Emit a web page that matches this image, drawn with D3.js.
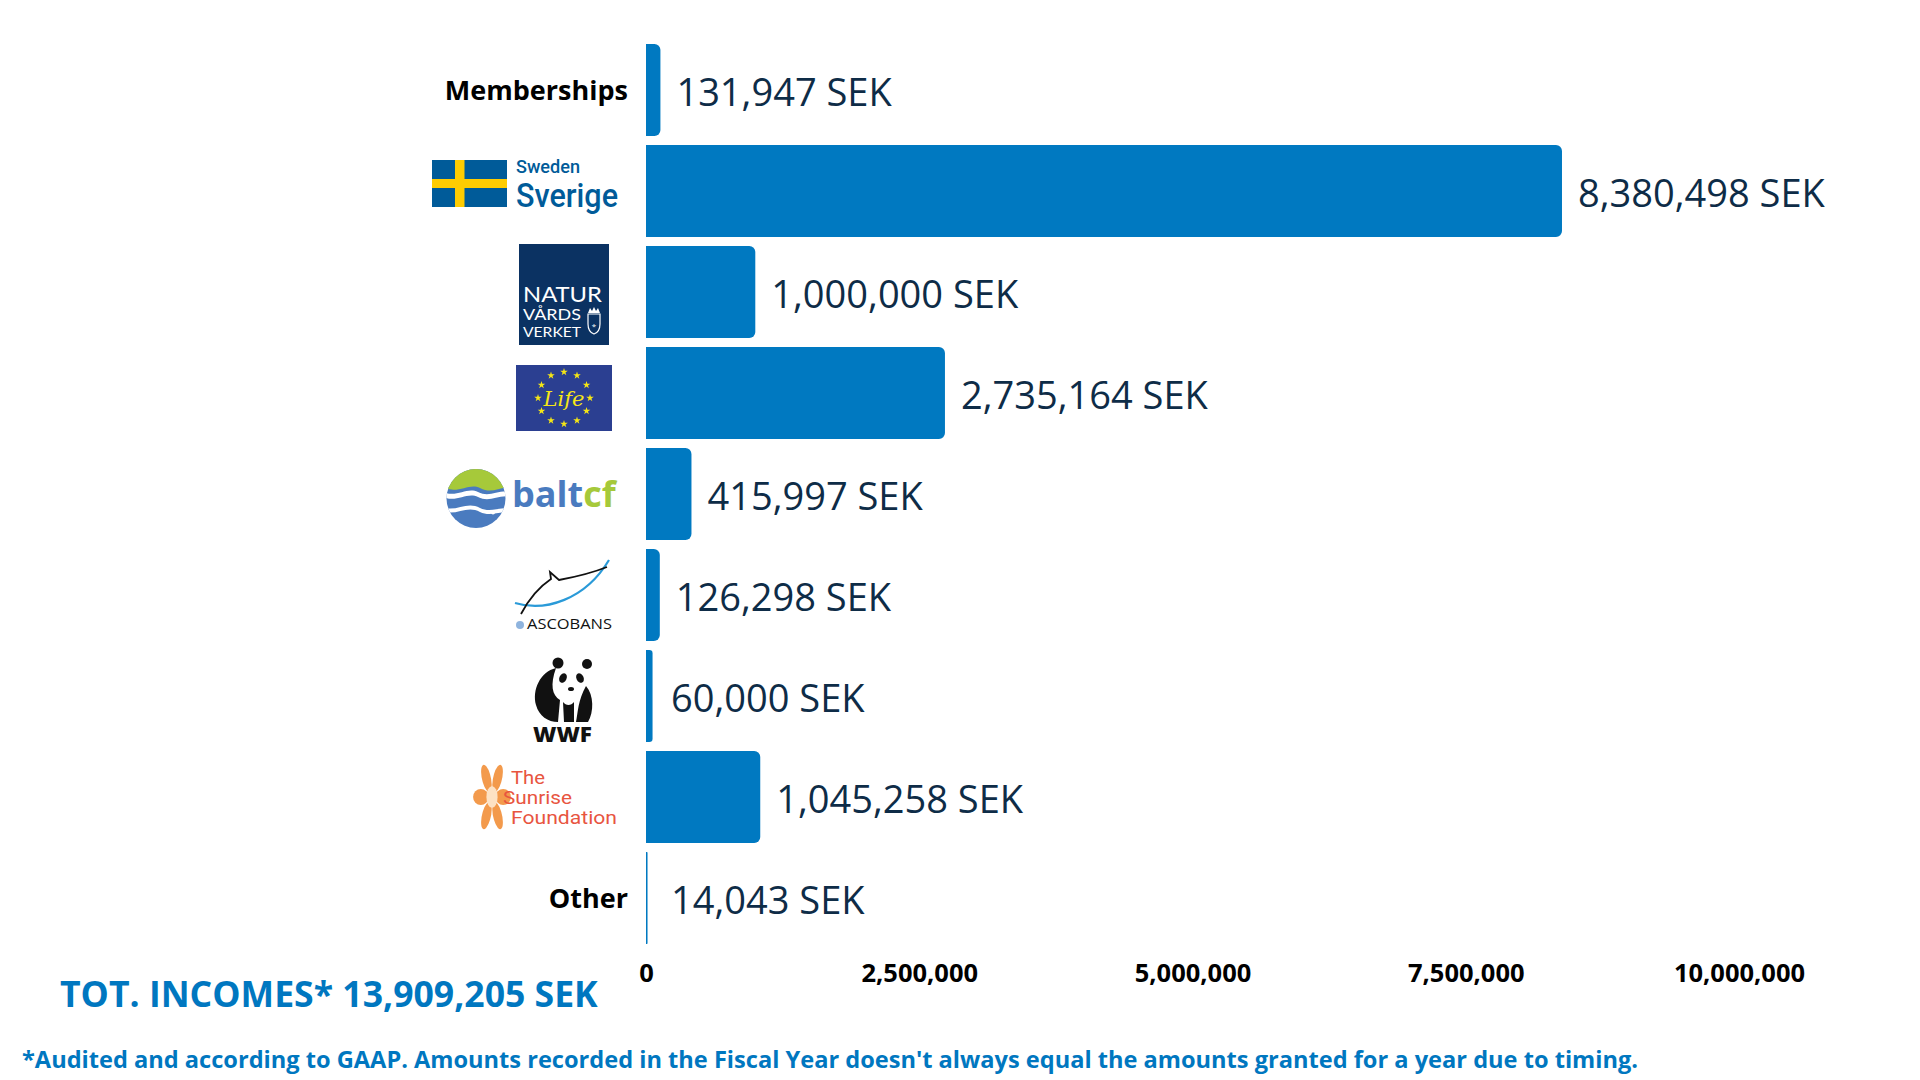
<!DOCTYPE html>
<html lang="en">
<head>
  <meta charset="UTF-8">
  <title>Incomes by source</title>
  <script src="https://d3js.org/d3.v7.min.js"></script>
  <style>
    body {
      margin: 0;
      background: #fff;
      font-family: 'Open Sans', 'Noto Sans', Arial, sans-serif;
    }
    svg { display: block; }
    .axis text {
      font-family: 'Open Sans', sans-serif;
      font-weight: 700;
      font-size: 25.5px;
      fill: #000;
    }
    .value {
      font-size: 38px;
      fill: #0e2c47;
    }
    .cat {
      font-size: 27px;
      font-weight: 700;
      fill: #000;
    }
  </style>
</head>
<body>
<svg id="chart" width="1920" height="1080"></svg>

<script>
const sources = ["Memberships", "Sweden Sverige", "Naturvårdsverket", "EU LIFE", "BaltCF",
                 "ASCOBANS", "WWF", "The Sunrise Foundation", "Other"];
const amounts = [131947, 8380498, 1000000, 2735164, 415997, 126298, 60000, 1045258, 14043];
const logos = [null, "sweden", "naturvard", "life", "baltcf", "ascobans", "wwf", "sunrise", null];
const axisTicks = [0, 2500000, 5000000, 7500000, 10000000];
const totalText = "TOT. INCOMES* 13,909,205 SEK";
const footnote = "*Audited and according to GAAP. Amounts recorded in the Fiscal Year doesn't always equal the amounts granted for a year due to timing.";

const data = sources.map((s, i) => ({source: s, value: amounts[i], logo: logos[i]}));

const svg = d3.select("#chart");
const blue = "#0079c1";

const x = d3.scaleLinear().domain([0, 10000000]).range([646, 1739]);
const y = d3.scaleBand().domain(sources).range([44, 944]).paddingInner(9 / 101).paddingOuter(0);

// bars, only right corners rounded
function barPath(x0, y0, w, h, r) {
  r = Math.max(0, Math.min(r, w / 2, h / 2));
  return `M${x0},${y0}H${x0 + w - r}A${r},${r} 0 0 1 ${x0 + w},${y0 + r}` +
         `V${y0 + h - r}A${r},${r} 0 0 1 ${x0 + w - r},${y0 + h}H${x0}Z`;
}

svg.append("g").selectAll("path")
  .data(data)
  .join("path")
    .attr("fill", blue)
    .attr("d", d => barPath(x(0), y(d.source), Math.max(1.5, x(d.value) - x(0)), y.bandwidth(), 6));

svg.append("g").selectAll("text")
  .data(data)
  .join("text")
    .attr("class", "value")
    .attr("x", d => Math.max(x(d.value) + 16, 671))
    .attr("y", d => y(d.source) + y.bandwidth() / 2 + 3)
    .attr("dy", "0.35em")
    .text(d => d3.format(",")(d.value) + " SEK");

// x axis
const xAxis = svg.append("g")
  .attr("class", "axis")
  .attr("transform", "translate(0,964)")
  .call(d3.axisBottom(x).tickValues(axisTicks).tickFormat(d3.format(",")).tickSize(0).tickPadding(0));
xAxis.select(".domain").remove();

// plain text categories
svg.append("g").selectAll("text")
  .data(data.filter(d => !d.logo))
  .join("text")
    .attr("class", "cat")
    .attr("x", 628)
    .attr("y", d => y(d.source) + y.bandwidth() / 2 + 1)
    .attr("dy", "0.35em")
    .attr("text-anchor", "end")
    .text(d => d.source);

// logos, drawn relative to band centre
const drawLogo = {
  sweden(g) {
    g.append("rect").attr("x", 432).attr("y", -31).attr("width", 75).attr("height", 47).attr("fill", "#005b99");
    g.append("rect").attr("x", 455).attr("y", -31).attr("width", 9.5).attr("height", 47).attr("fill", "#fecc02");
    g.append("rect").attr("x", 432).attr("y", -12).attr("width", 75).attr("height", 9).attr("fill", "#fecc02");
    g.append("text").attr("x", 516).attr("y", -18).attr("font-family", "Roboto").attr("font-weight", 500)
      .attr("font-size", 18).attr("fill", "#005b99").attr("textLength", 64).attr("lengthAdjust", "spacingAndGlyphs").text("Sweden");
    g.append("text").attr("x", 516).attr("y", 16).attr("font-family", "Roboto").attr("font-weight", 500)
      .attr("font-size", 33).attr("fill", "#005b99").attr("textLength", 102).attr("lengthAdjust", "spacingAndGlyphs").text("Sverige");
  },
  naturvard(g) {
    g.append("rect").attr("x", 519).attr("y", -48).attr("width", 90).attr("height", 101).attr("fill", "#0b3262");
    const t = [["NATUR", 10, 21, 79], ["VÅRDS", 28, 16, 58], ["VERKET", 45, 14, 58]];
    t.forEach(([s, ty, fs, tl]) => {
      g.append("text").attr("x", 523).attr("y", ty).attr("font-family", "Lato").attr("font-size", fs)
        .attr("fill", "#fff").attr("textLength", tl).attr("lengthAdjust", "spacingAndGlyphs").text(s);
    });
    g.append("path").attr("d", "M588,22 h12 v10 q0,8 -6,10 q-6,-2 -6,-10 z")
      .attr("fill", "none").attr("stroke", "#fff").attr("stroke-width", 1.2);
    g.append("path").attr("d", "M588,21 l2,-5 l2,3 l2,-4 l2,4 l2,-3 l2,5 z").attr("fill", "#fff");
    g.append("text").attr("x", 594).attr("y", 37).attr("font-size", 8).attr("fill", "#fff").attr("text-anchor", "middle").text("*");
  },
  life(g) {
    g.append("rect").attr("x", 516).attr("y", -28).attr("width", 96).attr("height", 66).attr("fill", "#2b3f91");
    const star = d3.symbol().type(d3.symbolStar).size(18);
    d3.range(12).forEach(i => {
      const a = i / 12 * 2 * Math.PI;
      g.append("path").attr("d", star)
        .attr("transform", `translate(${564 + 26 * Math.sin(a)},${5 - 26 * Math.cos(a)})`)
        .attr("fill", "#f5e616");
    });
    g.append("text").attr("x", 564).attr("y", 13).attr("text-anchor", "middle").attr("font-family", "DejaVu Serif")
      .attr("font-style", "italic").attr("font-size", 21).attr("fill", "#f5e616").text("Life");
  },
  baltcf(g) {
    const id = "baltclip";
    g.append("clipPath").attr("id", id).append("circle").attr("cx", 476).attr("cy", 4.5).attr("r", 29.5);
    const c = g.append("g").attr("clip-path", `url(#${id})`);
    c.append("rect").attr("x", 440).attr("y", -30).attr("width", 80).attr("height", 70).attr("fill", "#4a7bbf");
    c.append("path").attr("d", "M440,-30 H520 V-6 C505,-12 495,2 480,-6 C468,-12 458,2 440,-8 Z").attr("fill", "#a6c93a");
    c.append("path").attr("d", "M440,-4 C455,6 466,-8 478,-2 C492,5 500,-8 520,0 L520,5 C500,-3 492,10 478,3 C466,-3 455,11 440,1 Z")
      .attr("fill", "#fff");
    c.append("path").attr("d", "M440,12 C455,20 466,6 480,14 C492,20 505,10 520,16 L520,20 C505,14 492,24 480,18 C466,10 455,24 440,16 Z")
      .attr("fill", "#fff");
    g.append("circle").attr("cx", 493).attr("cy", 18.5).attr("r", 2).attr("fill", "#fff");
    const t = g.append("text").attr("x", 512).attr("y", 13).attr("font-family", "Open Sans").attr("font-weight", 700).attr("font-size", 36);
    t.append("tspan").attr("fill", "#4a7bbf").text("balt");
    t.append("tspan").attr("fill", "#a6c93a").text("cf");
  },
  ascobans(g) {
    g.append("path").attr("d", "M515,8 C545,17 585,5 609,-35").attr("fill", "none").attr("stroke", "#2a9ad8").attr("stroke-width", 2.2);
    g.append("path").attr("d", "M521,19 C530,2 542,-10 551,-16 L550,-23 L559,-15 C575,-18 592,-22 607,-28")
      .attr("fill", "none").attr("stroke", "#111").attr("stroke-width", 1.8);
    g.append("circle").attr("cx", 520).attr("cy", 30).attr("r", 4).attr("fill", "#8fb4de");
    g.append("text").attr("x", 527).attr("y", 34).attr("font-family", "Open Sans").attr("font-size", 14)
      .attr("fill", "#111").attr("textLength", 85).attr("lengthAdjust", "spacingAndGlyphs").text("ASCOBANS");
  },
  wwf(g) {
    const k = "#111";
    g.append("path").attr("d", "M556,-28 C540,-24 532,-6 536,9 C539,20 548,26 558,26 L560,4 C552,-1 550,-11 556,-28 Z").attr("fill", k);
    g.append("path").attr("d", "M586,-10 C594,-1 594,16 588,26 L576,26 C578,16 578,4 586,-10 Z").attr("fill", k);
    g.append("path").attr("d", "M563,6 C566,10 571,10 574,6 L574,26 L564,26 Z").attr("fill", k);
    g.append("circle").attr("cx", 558).attr("cy", -33).attr("r", 5.5).attr("fill", k);
    g.append("circle").attr("cx", 587).attr("cy", -32).attr("r", 5).attr("fill", k);
    g.append("ellipse").attr("cx", 563).attr("cy", -18).attr("rx", 3.6).attr("ry", 5).attr("transform", "rotate(25 563 -18)").attr("fill", k);
    g.append("ellipse").attr("cx", 580).attr("cy", -18).attr("rx", 3.6).attr("ry", 5).attr("transform", "rotate(-25 580 -18)").attr("fill", k);
    g.append("ellipse").attr("cx", 571).attr("cy", -7).attr("rx", 3).attr("ry", 2).attr("fill", k);
    g.append("text").attr("x", 533).attr("y", 46).attr("font-family", "Open Sans").attr("font-weight", 800).attr("font-size", 21)
      .attr("fill", k).attr("textLength", 59).attr("lengthAdjust", "spacingAndGlyphs").text("WWF");
  },
  sunrise(g) {
    const f = g.append("g").attr("transform", "translate(492,0) scale(0.7,1.35)");
    d3.range(6).forEach(i => {
      const a = i * 60 + 30;
      f.append("ellipse").attr("cx", 0).attr("cy", -16).attr("rx", 6).attr("ry", 11)
        .attr("transform", `rotate(${a})`).attr("fill", "#f39a4c");
    });
    f.append("circle").attr("r", 8).attr("fill", "#fde2c4");
    const t = [["The", 511, -13, 34], ["Sunrise", 503, 7, 69], ["Foundation", 511, 27, 106]];
    t.forEach(([s, tx, ty, tl]) => {
      g.append("text").attr("x", tx).attr("y", ty).attr("font-family", "Roboto").attr("font-size", 19)
        .attr("fill", "#e8553f").attr("textLength", tl).attr("lengthAdjust", "spacingAndGlyphs").text(s);
    });
  }
};

data.filter(d => d.logo).forEach(d => {
  const g = svg.append("g").attr("transform", `translate(0,${y(d.source) + y.bandwidth() / 2})`);
  drawLogo[d.logo](g);
});

// total and footnote
svg.append("text")
  .attr("x", 60).attr("y", 1007)
  .attr("font-size", 35.6).attr("font-weight", 700).attr("fill", "#0077c0")
  .text(totalText);

svg.append("text")
  .attr("x", 22).attr("y", 1068)
  .attr("font-size", 23.6).attr("font-weight", 700).attr("fill", "#0077c0")
  .text(footnote);
</script>
</body>
</html>
